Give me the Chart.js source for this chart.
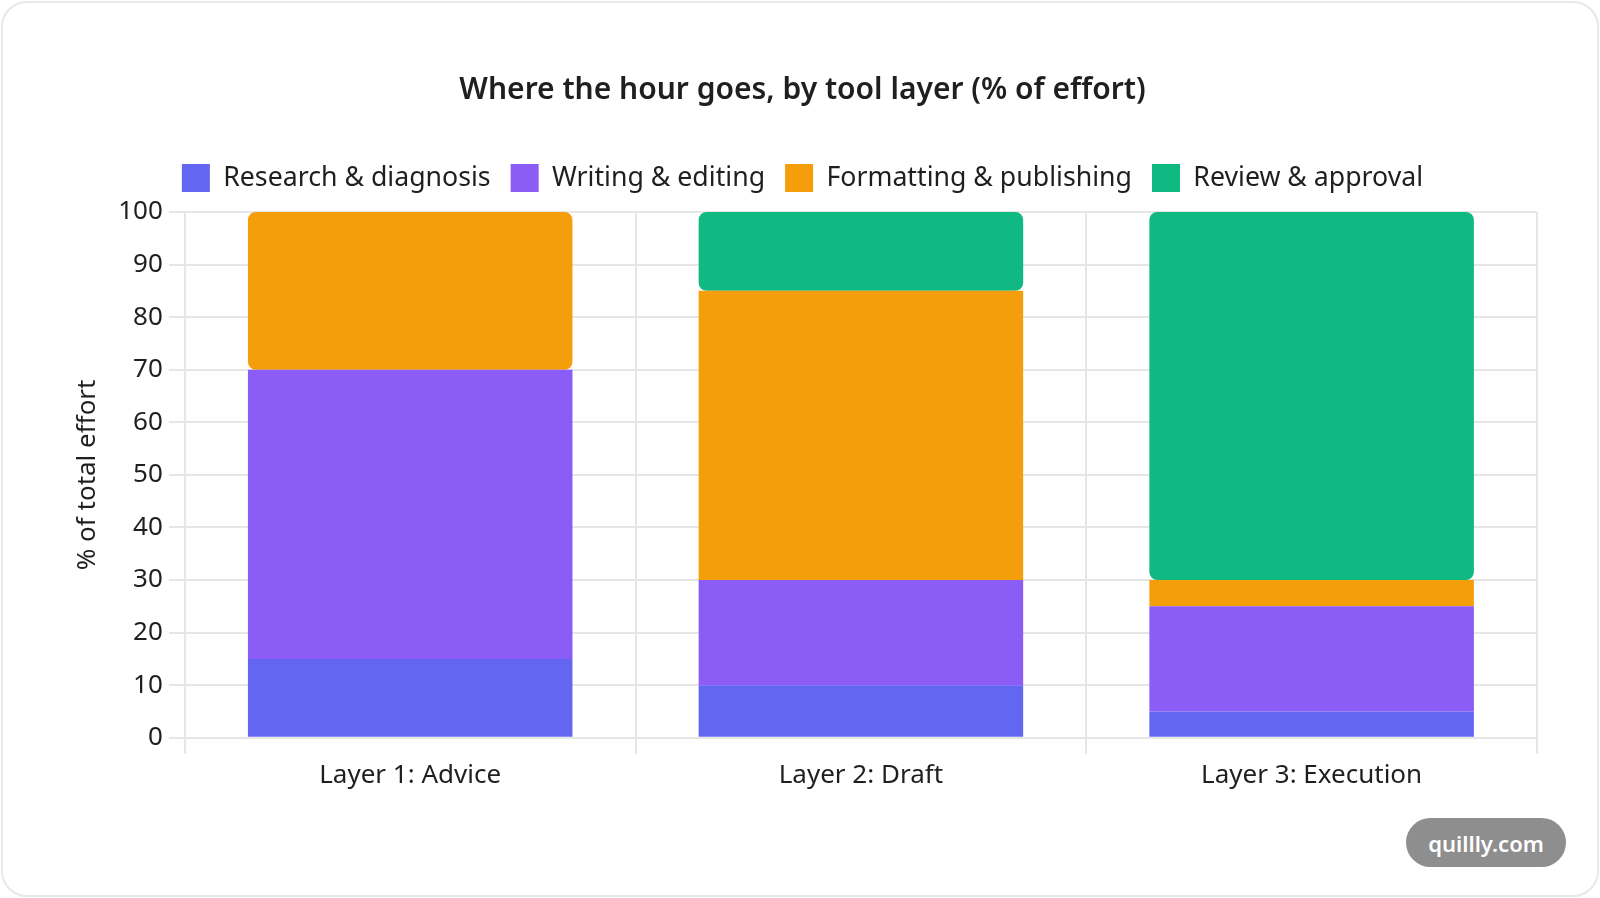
<!DOCTYPE html>
<html>
<head>
<meta charset="utf-8">
<title>Where the hour goes</title>
<script src="https://cdn.jsdelivr.net/npm/chart.js@4.4.0/dist/chart.umd.min.js"></script>
<style>
    html, body { margin: 0; padding: 0; background: #fff; }
    body { width: 1600px; height: 898px; overflow: hidden; font-family: "Noto Sans", sans-serif; }
    .card {
        position: absolute; left: 1px; top: 1px; width: 1598px; height: 896px;
        box-sizing: border-box; border: 2px solid #e8e8e8; border-radius: 26px; background: #fff;
    }
    #wrap { position: absolute; left: 0; top: 0; width: 1600px; height: 898px; }
    .badge {
        position: absolute; left: 1406px; top: 818px; width: 160px; height: 49px;
        border-radius: 25px; background: #8e8e8e; color: #fff;
        font: 600 22px "Noto Sans", sans-serif;
        display: flex; align-items: center; justify-content: center;
    }
</style>
</head>
<body>
<div class="card"></div>
<div id="wrap"><canvas id="mainChart"></canvas></div>
<div class="badge">quillly.com</div>

<script>
// Chart data
const layers = ['Layer 1: Advice', 'Layer 2: Draft', 'Layer 3: Execution'];
const research = [15, 10, 5];
const writing = [55, 20, 20];
const formatting = [30, 55, 5];
const review = [0, 15, 70];
const yTicks = [0, 10, 20, 30, 40, 50, 60, 70, 80, 90, 100];

const gridColor = '#e6e6e6';
const textColor = '#1f1f1f';

function makeSet(label, values, color) {
    return {
        label: label,
        data: values,
        backgroundColor: color,
        borderWidth: 0,
        borderRadius: 8,
        borderSkipped: false
    };
}

// extra room under the legend
const legendGap = {
    id: 'legendGap',
    beforeInit(chart) {
        const fit = chart.legend.fit;
        chart.legend.fit = function () {
            fit.bind(chart.legend)();
            this.height += 10;
        };
    }
};

function setupChart() {
    const ctx = document.getElementById('mainChart').getContext('2d');
    new Chart(ctx, {
        type: 'bar',
        data: {
            labels: layers,
            datasets: [
                makeSet('Research & diagnosis', research, '#6366f1'),
                makeSet('Writing & editing', writing, '#8b5cf6'),
                makeSet('Formatting & publishing', formatting, '#f59e0b'),
                makeSet('Review & approval', review, '#10b981')
            ]
        },
        plugins: [legendGap],
        options: {
            responsive: true,
            maintainAspectRatio: false,
            animation: false,
            layout: { padding: { left: 68, right: 63, top: 53, bottom: 101 } },
            plugins: {
                title: {
                    display: true,
                    text: 'Where the hour goes, by tool layer (% of effort)',
                    color: textColor,
                    font: { family: 'Noto Sans', size: 30, weight: '600' },
                    padding: { top: 19, bottom: 36 }
                },
                legend: {
                    position: 'top',
                    labels: {
                        boxWidth: 28,
                        boxHeight: 28,
                        padding: 20,
                        color: textColor,
                        font: { family: 'Noto Sans', size: 26.7 }
                    }
                },
                tooltip: { enabled: false }
            },
            scales: {
                x: {
                    stacked: true,
                    grid: { color: gridColor, lineWidth: 2, tickLength: 16 },
                    border: { color: gridColor, width: 2 },
                    ticks: { color: textColor, padding: 6, font: { family: 'Noto Sans', size: 26 } }
                },
                y: {
                    stacked: true,
                    min: 0,
                    max: 100,
                    afterBuildTicks: (axis) => { axis.ticks = yTicks.map(v => ({ value: v })); },
                    grid: { color: gridColor, lineWidth: 2, tickLength: 16 },
                    border: { color: gridColor, width: 2 },
                    ticks: { color: textColor, padding: 6, font: { family: 'Noto Sans', size: 26 } },
                    title: {
                        display: true,
                        text: '% of total effort',
                        color: textColor,
                        padding: { top: 4, bottom: 9 },
                        font: { family: 'Noto Sans', size: 26 }
                    }
                }
            }
        }
    });
}

window.onload = setupChart;
</script>
</body>
</html>
